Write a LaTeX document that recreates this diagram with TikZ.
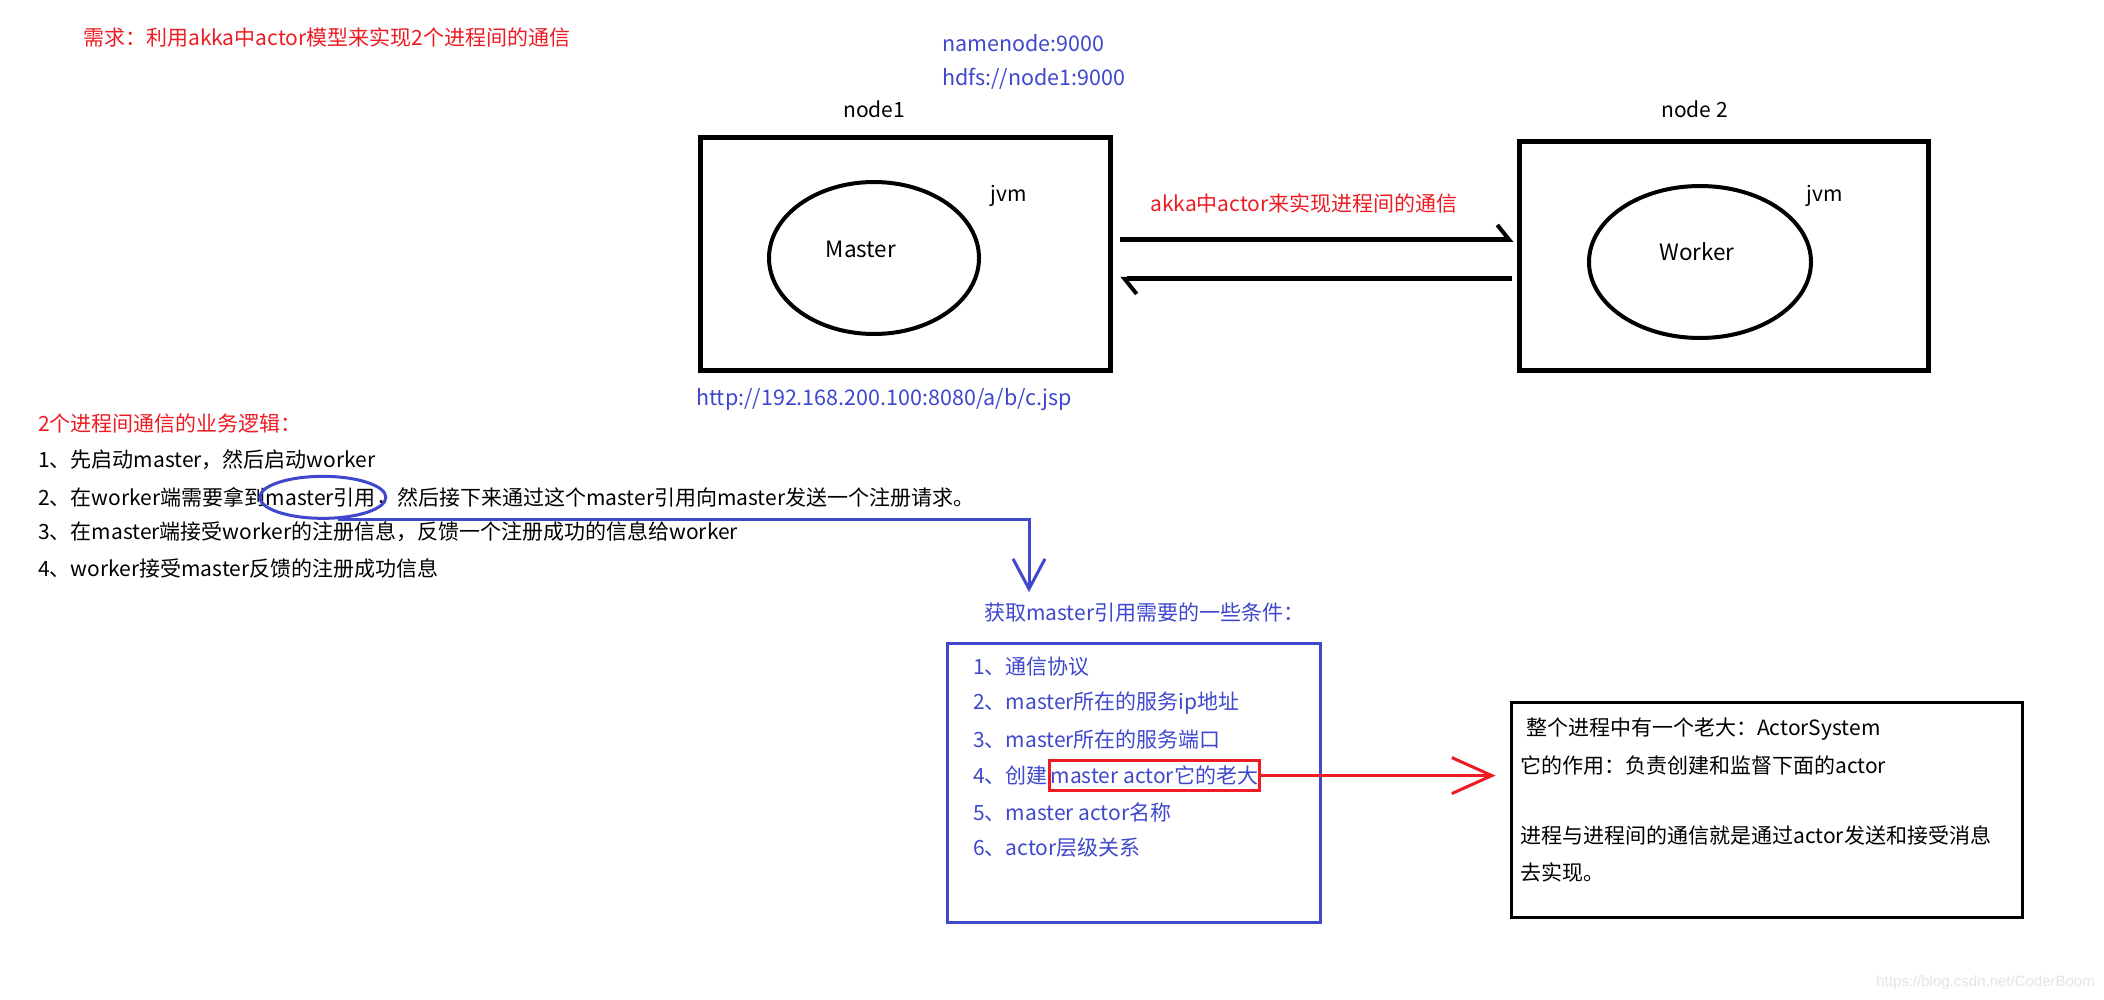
\documentclass[tikz,border=0pt]{standalone}
\usepackage{fontspec}
\setmainfont{Noto Sans CJK SC}
\newfontfamily\latinfont{Liberation Sans}
\usetikzlibrary{arrows.meta,shapes.geometric,calc}
\definecolor{pred}{HTML}{ED1C24}
\definecolor{pblue}{HTML}{3F48CC}
\definecolor{wmgray}{HTML}{E4E4E4}
\begin{document}
\begin{tikzpicture}[x=1pt,y=-1pt,
  txt/.style={inner sep=0pt, anchor=west, font=\fontsize{21}{25}\selectfont},
  ctxt/.style={inner sep=0pt, anchor=center, font=\fontsize{21}{25}\selectfont},
  cont/.style={inner sep=0pt, anchor=base west, font=\fontsize{21}{25}\selectfont},
  bigbox/.style={draw=black, line width=5pt, inner sep=0pt},
  jvmell/.style={draw=black, ellipse, line width=4pt, inner sep=0pt},
  blackarr/.style={draw=black, line width=5pt, -{Straight Barb[harpoon, length=12pt, width=30pt, line width=4pt]}},
  bluebox/.style={draw=pblue, line width=3pt, inner sep=0pt},
  bluearr/.style={draw=pblue, line width=3pt, -{Straight Barb[length=30pt, width=32pt, line width=3pt]}},
  redarr/.style={draw=pred, line width=3pt, -{Straight Barb[length=40pt, width=36pt, line width=3pt]}},
  infobox/.style={draw=black, line width=3pt, inner sep=0pt}
]
\useasboundingbox[fill=white] (0,0) rectangle (2104,1000);

% top texts
\node[txt, text=pred] (title) at (83,38) {需求：利用akka中actor模型来实现2个进程间的通信};
\node[txt, text=pblue, font=\fontsize{21.5}{25}\selectfont] (nn) at (942,43) {namenode:9000};
\node[txt, text=pblue, font=\fontsize{21.5}{25}\selectfont] (hdfs) at (942,79) {hdfs://node1:9000};
\node[txt] (n1label) at (843,109) {node1};
\node[txt] (n2label) at (1661,109) {node 2};

% node boxes
\node[bigbox, minimum width=410pt, minimum height=232pt] (box1) at (905,254) {};
\node[bigbox, minimum width=409pt, minimum height=228pt] (box2) at (1723.5,256) {};
\node[jvmell, minimum width=210pt, minimum height=152pt] (masterell) at (874,258) {};
\node[jvmell, minimum width=222pt, minimum height=152pt] (workerell) at (1700,262) {};
\node[ctxt, font=\fontsize{22.5}{26}\selectfont] (mastertxt) at (861,249) {Master};
\node[ctxt, font=\fontsize{22.5}{26}\selectfont] (workertxt) at (1697,252) {Worker};
\node[ctxt] (jvm1) at (1009,196) {jvm};
\node[ctxt] (jvm2) at (1825,196) {jvm};
\node[ctxt, text=pred] (akkalabel) at (1304,203) {akka中actor来实现进程间的通信};

\draw[blackarr] ([xshift=7pt,yshift=14pt]box1.east) -- ([xshift=-3pt,yshift=16pt]box2.west);
\draw[blackarr] ([xshift=-5pt,yshift=-23pt]box2.west) -- ([xshift=8pt,yshift=-25pt]box1.east);

\node[txt, text=pblue, font=\fontsize{21.5}{25}\selectfont] (url) at (696,400) {http://192.168.200.100:8080/a/b/c.jsp};

% business logic
\node[txt, text=pred] (logic) at (38,424) {2个进程间通信的业务逻辑：};
\node[txt] (l1) at (38,460) {1、先启动master，然后启动worker};
\node[txt] (l2a) at (38,497) {2、在worker端需要拿到};
\node[cont] (refword) at (l2a.base east) {master引用};
\node[cont] (l2c) at (refword.base east) {，然后接下来通过这个master引用向master发送一个注册请求。};
\node[txt] (l3) at (38,532) {3、在master端接受worker的注册信息，反馈一个注册成功的信息给worker};
\node[txt] (l4) at (38,568) {4、worker接受master反馈的注册成功信息};

\node[draw=pblue, ellipse, line width=3pt, minimum width=126pt, minimum height=42pt, inner sep=0pt] (refcirc) at ([xshift=2pt]refword.center) {};

% conditions
\node[txt, text=pblue] (condtitle) at (984,613) {获取master引用需要的一些条件：};
\node[bluebox, minimum width=373pt, minimum height=279pt] (condbox) at (1133.5,782.5) {};
\draw[bluearr] (refcirc.-55) -| ([xshift=45pt,yshift=11pt]condtitle.north west);

\node[txt, text=pblue] (c1) at (973,667) {1、通信协议};
\node[txt, text=pblue] (c2) at (973,703) {2、master所在的服务ip地址};
\node[txt, text=pblue] (c3) at (973,739) {3、master所在的服务端口};
\node[txt, text=pblue] (c4) at (973,776) {4、创建};
\node[cont, text=pblue, draw=pred, line width=3pt, inner xsep=1pt, inner ysep=6pt, text depth=1pt] (bossbox) at (c4.base east) {master actor它的老大};
\node[txt, text=pblue] (c5) at (973,812) {5、master actor名称};
\node[txt, text=pblue] (c6) at (973,848) {6、actor层级关系};

% info box
\node[infobox, minimum width=511pt, minimum height=215pt] (infobox) at (1766.5,809.5) {};
\node[txt] (i1) at (1526,729) {整个进程中有一个老大：ActorSystem};
\node[txt] (i2) at (1520,765) {它的作用：负责创建和监督下面的actor};
\node[txt] (i3) at (1520,835) {进程与进程间的通信就是通过actor发送和接受消息};
\node[txt] (i4) at (1520,872) {去实现。};

\draw[redarr, shorten >=14pt] (bossbox.east) -- (bossbox.east -| infobox.west);

\node[inner sep=0pt, anchor=east, text=wmgray, font=\latinfont\fontsize{15}{18}\selectfont] (wmark) at (2095,983) {https://blog.csdn.net/CoderBoom};
\end{tikzpicture}
\end{document}
